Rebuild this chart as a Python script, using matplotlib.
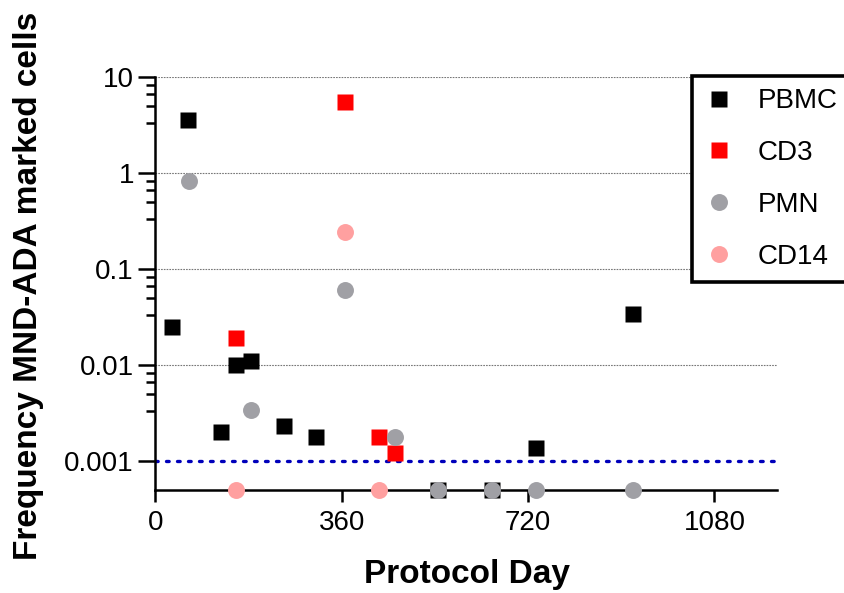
import numpy as np
import matplotlib
matplotlib.use("Agg")
import matplotlib.pyplot as plt
from matplotlib.ticker import FixedLocator, FixedFormatter, NullFormatter

plt.rcParams['font.family'] = ['Liberation Sans', 'DejaVu Sans']

# frequency of MND-ADA marked cells per cell type; 0.0005 = below detection
pbmc_day = [32, 63, 126, 155, 185, 248, 310, 546, 651, 735, 922]
pbmc_freq = [0.025, 3.6, 0.002, 0.010, 0.011, 0.0023, 0.0018, 0.0005, 0.0005, 0.00136, 0.034]

cd3_day = [155, 366, 431, 462]
cd3_freq = [0.019, 5.5, 0.0018, 0.0012]

pmn_day = [64, 185, 366, 463, 546, 651, 735, 922]
pmn_freq = [0.82, 0.0034, 0.06, 0.0018, 0.0005, 0.0005, 0.0005, 0.0005]

cd14_day = [155, 366, 431]
cd14_freq = [0.0005, 0.245, 0.0005]

detection_limit = 0.001

x_ticks = [0, 360, 720, 1080]
y_ticks = [0.001, 0.01, 0.1, 1, 10]
y_tick_labels = ["0.001", "0.01", "0.1", "1", "10"]

fig = plt.figure(figsize=(8.45, 5.93), dpi=100)
ax = fig.add_axes([155.5 / 845, 1 - 490 / 593, 621 / 845, 413 / 593])

ms = 12.2
series = [
    ("PBMC", pbmc_day, pbmc_freq, "s", "black"),
    ("CD3", cd3_day, cd3_freq, "s", "#ff0000"),
    ("PMN", pmn_day, pmn_freq, "o", "#a0a0a5"),
    ("CD14", cd14_day, cd14_freq, "o", "#ffa0a0"),
]
for z, (name, d, f, m, c) in enumerate(series):
    ax.plot(d, f, linestyle="none", marker=m, ms=ms, mfc=c, mec="none",
            label=name, clip_on=False, zorder=5 + z)

ax.set_yscale("log")
ax.set_xlim(0, 1200)
ax.set_ylim(0.0005, 10)

# dotted horizontal grid at each decade
for yv in y_ticks[1:]:
    ax.axhline(yv, color="#777777", lw=0.8, ls=(0, (1.5, 1)), zorder=1)

ax.axhline(detection_limit, color="#0000bb", lw=2.4, ls=(0, (0.8, 2.5)),
           dash_capstyle="round", zorder=2)

ax.yaxis.set_major_locator(FixedLocator(y_ticks))
ax.yaxis.set_major_formatter(FixedFormatter(y_tick_labels))
minor = [d * s for d in [0.001, 0.01, 0.1, 1] for s in [3.33, 5.0, 6.67, 8.33]]
ax.yaxis.set_minor_locator(FixedLocator(minor))
ax.yaxis.set_minor_formatter(NullFormatter())
ax.xaxis.set_major_locator(FixedLocator(x_ticks))
ax.xaxis.set_minor_locator(FixedLocator([]))

for side in ["top", "right"]:
    ax.spines[side].set_visible(False)
for side in ["left", "bottom"]:
    ax.spines[side].set_linewidth(1.8)

ax.tick_params(axis="y", which="major", length=12, width=1.8, labelsize=20, pad=3.5)
ax.tick_params(axis="y", which="minor", length=6.5, width=1.8)
ax.tick_params(axis="x", which="major", length=8.6, width=1.8, labelsize=20, pad=6)

fig.text(29 / 845, 1 - 286 / 593, "Frequency MND-ADA marked cells", rotation=90,
         ha="center", va="center", fontsize=24, fontweight="bold")
fig.text(467 / 845, 1 - 574 / 593, "Protocol Day", ha="center", va="center",
         fontsize=24, fontweight="bold")

leg = ax.legend(loc="upper left", bbox_to_anchor=(692 / 845, 1 - 76 / 593),
                bbox_transform=fig.transFigure, fontsize=20, frameon=True,
                fancybox=False, framealpha=1, borderaxespad=0, borderpad=0.44,
                handlelength=1.04, handletextpad=0.9, labelspacing=0.93)
leg.get_frame().set_edgecolor("black")
leg.get_frame().set_linewidth(2.6)

fig.savefig("out.png", dpi=100)
